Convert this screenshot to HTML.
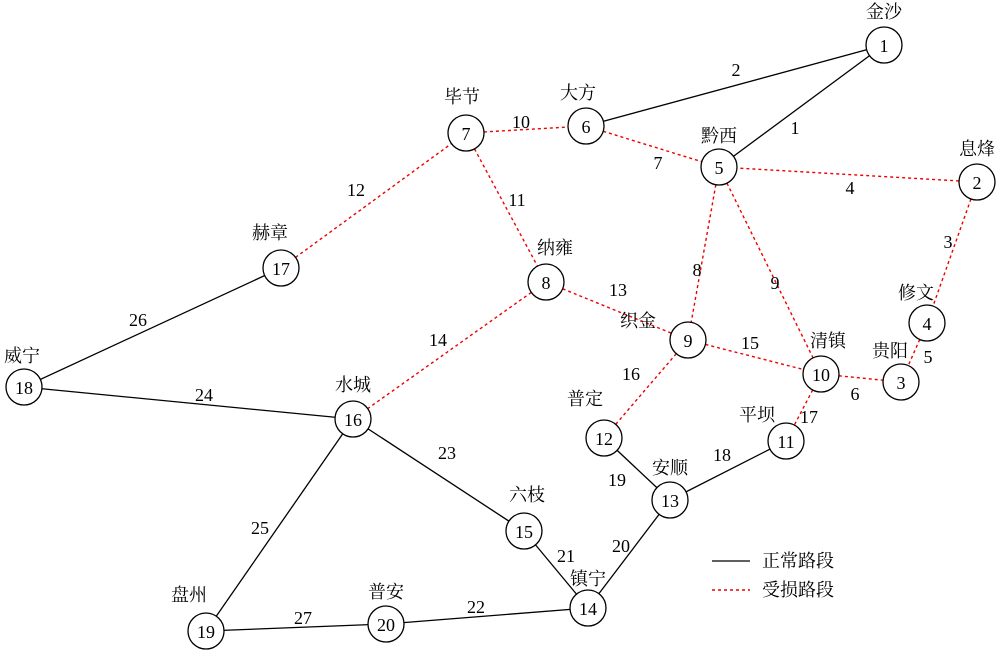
<!DOCTYPE html>
<html><head><meta charset="utf-8"><style>
html,body{margin:0;padding:0;background:#fff}
svg text{font-family:"Liberation Serif","Noto Serif CJK SC",serif;font-size:18px;fill:#000}
</style></head><body>
<svg width="1000" height="651" viewBox="0 0 1000 651" xmlns="http://www.w3.org/2000/svg">
<g stroke="#000" stroke-width="1.3">
<line x1="884" y1="45" x2="719" y2="167"/>
<line x1="884" y1="45" x2="586" y2="126"/>
<line x1="786" y1="441" x2="670" y2="500"/>
<line x1="604" y1="438" x2="670" y2="500"/>
<line x1="670" y1="500" x2="588" y2="608"/>
<line x1="524" y1="531" x2="588" y2="608"/>
<line x1="386" y1="624" x2="588" y2="608"/>
<line x1="353" y1="419" x2="524" y2="531"/>
<line x1="24" y1="387" x2="353" y2="419"/>
<line x1="206" y1="631" x2="353" y2="419"/>
<line x1="24" y1="387" x2="281" y2="268"/>
<line x1="206" y1="631" x2="386" y2="624"/>
<line x1="712" y1="561" x2="750" y2="561"/>
</g>
<g stroke="#e00" stroke-width="1.4" stroke-dasharray="3,3">
<line x1="977" y1="182" x2="927" y2="323"/>
<line x1="977" y1="182" x2="719" y2="167"/>
<line x1="927" y1="323" x2="901" y2="382"/>
<line x1="821" y1="374" x2="901" y2="382"/>
<line x1="586" y1="126" x2="719" y2="167"/>
<line x1="719" y1="167" x2="688" y2="340"/>
<line x1="719" y1="167" x2="821" y2="374"/>
<line x1="466" y1="133" x2="586" y2="126"/>
<line x1="466" y1="133" x2="546" y2="282"/>
<line x1="281" y1="268" x2="466" y2="133"/>
<line x1="546" y1="282" x2="688" y2="340"/>
<line x1="546" y1="282" x2="353" y2="419"/>
<line x1="688" y1="340" x2="821" y2="374"/>
<line x1="688" y1="340" x2="604" y2="438"/>
<line x1="821" y1="374" x2="786" y2="441"/>
<line x1="712" y1="590" x2="750" y2="590"/>
</g>
<g fill="#fff" stroke="#000" stroke-width="1.3">
<circle cx="884" cy="45" r="18"/><circle cx="977" cy="182" r="18"/><circle cx="901" cy="382" r="18"/>
<circle cx="927" cy="323" r="18"/><circle cx="719" cy="167" r="18"/><circle cx="586" cy="126" r="18"/>
<circle cx="466" cy="133" r="18"/><circle cx="546" cy="282" r="18"/><circle cx="688" cy="340" r="18"/>
<circle cx="821" cy="374" r="18"/><circle cx="786" cy="441" r="18"/><circle cx="604" cy="438" r="18"/>
<circle cx="670" cy="500" r="18"/><circle cx="588" cy="608" r="18"/><circle cx="524" cy="531" r="18"/>
<circle cx="353" cy="419" r="18"/><circle cx="281" cy="268" r="18"/><circle cx="24" cy="387" r="18"/>
<circle cx="206" cy="631" r="18"/><circle cx="386" cy="624" r="18"/>
</g>
<g text-anchor="middle" style="font-size:19px">
<text x="884" y="52">1</text><text x="977" y="189">2</text><text x="901" y="389">3</text>
<text x="927" y="330">4</text><text x="719" y="174">5</text><text x="586" y="133">6</text>
<text x="466" y="140">7</text><text x="546" y="289">8</text><text x="688" y="347">9</text>
<text x="821" y="381">10</text><text x="786" y="448">11</text><text x="604" y="445">12</text>
<text x="670" y="507">13</text><text x="588" y="615">14</text><text x="524" y="538">15</text>
<text x="353" y="426">16</text><text x="281" y="275">17</text><text x="24" y="394">18</text>
<text x="206" y="638">19</text><text x="386" y="631">20</text>
</g>
<g text-anchor="middle" style="font-size:19px">
<text x="884" y="18">金沙</text><text x="977" y="155">息烽</text><text x="890" y="357">贵阳</text>
<text x="916" y="299">修文</text><text x="719" y="142">黔西</text><text x="578" y="99">大方</text>
<text x="462" y="103">毕节</text><text x="555" y="254">纳雍</text><text x="638" y="327">织金</text>
<text x="828" y="347">清镇</text><text x="757" y="421">平坝</text><text x="585" y="405">普定</text>
<text x="670" y="474">安顺</text><text x="527" y="501">六枝</text><text x="588" y="585">镇宁</text>
<text x="353" y="391">水城</text><text x="270" y="239">赫章</text><text x="22" y="362">威宁</text>
<text x="189" y="601">盘州</text><text x="386" y="598">普安</text>
</g>
<g text-anchor="middle">
<text x="795" y="134">1</text><text x="736" y="76">2</text><text x="948" y="248">3</text>
<text x="850" y="194">4</text><text x="928" y="363">5</text><text x="855" y="400">6</text>
<text x="658" y="169">7</text><text x="697" y="276">8</text><text x="775" y="289">9</text>
<text x="521" y="128">10</text><text x="517" y="206">11</text><text x="356" y="196">12</text>
<text x="618" y="296">13</text><text x="438" y="346">14</text><text x="750" y="349">15</text>
<text x="631" y="380">16</text><text x="809" y="423">17</text><text x="722" y="461">18</text>
<text x="617" y="486">19</text><text x="621" y="552">20</text><text x="566" y="562">21</text>
<text x="476" y="613">22</text><text x="447" y="459">23</text><text x="204" y="401">24</text>
<text x="260" y="534">25</text><text x="138" y="326">26</text><text x="303" y="624">27</text>
</g>
<text x="762" y="567">正常路段</text>
<text x="762" y="596">受损路段</text>
</svg>
</body></html>
